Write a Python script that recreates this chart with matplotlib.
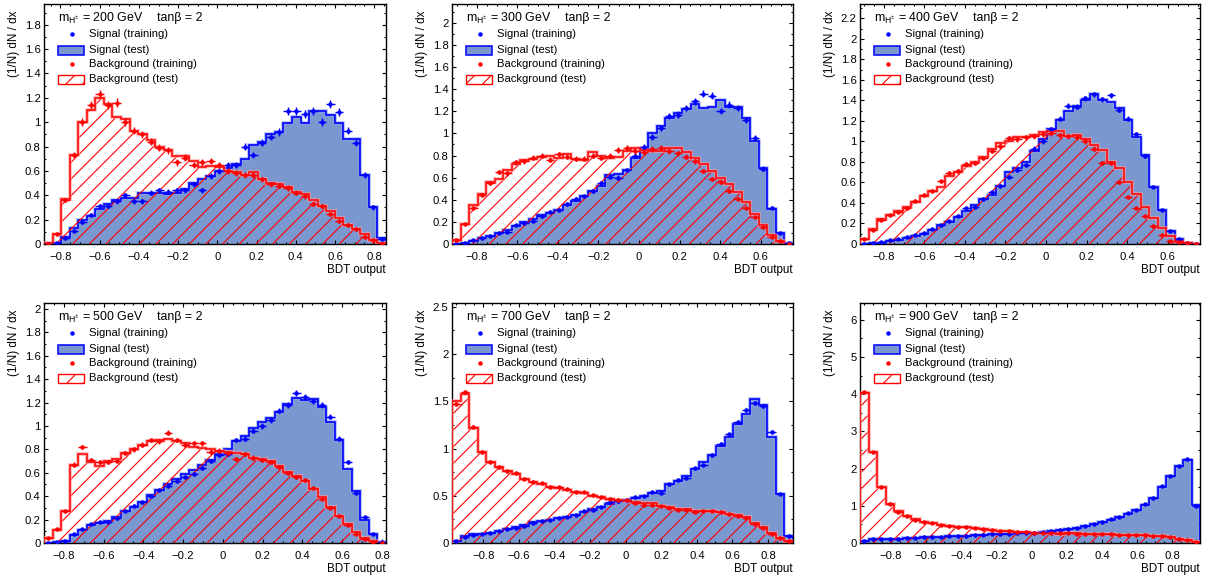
import numpy as np
import matplotlib
matplotlib.use('Agg')
import matplotlib.pyplot as plt
from matplotlib.patches import Rectangle
from matplotlib.ticker import MultipleLocator, FuncFormatter

plt.rcParams['font.family'] = ['Liberation Sans', 'DejaVu Sans']
plt.rcParams['mathtext.fontset'] = 'custom'
plt.rcParams['mathtext.rm'] = 'Liberation Sans'
plt.rcParams['mathtext.it'] = 'Liberation Sans:italic'
plt.rcParams['hatch.linewidth'] = 0.8

# ---------------- data ----------------
masses = [200, 300, 400, 500, 700, 900]
tan_beta = 2
x_ranges = [(-0.884, 0.86), (-0.923, 0.76), (-0.918, 0.76),
            (-0.90, 0.82), (-0.975, 0.94), (-0.975, 0.957)]
y_max = [1.97, 2.17, 2.34, 2.05, 2.54, 6.45]
y_major = [0.2, 0.2, 0.2, 0.2, 0.5, 1.0]
x_ticks = [-0.8, -0.6, -0.4, -0.2, 0, 0.2, 0.4, 0.6, 0.8]
err_scale = [0.032, 0.026, 0.022, 0.022, 0.018, 0.02]

# 200 GeV
sig_test_200 = [0.0, 0.01, 0.06, 0.13, 0.2, 0.23, 0.29, 0.33, 0.36, 0.38, 0.38, 0.42, 0.42, 0.42, 0.41, 0.42,
                0.45, 0.5, 0.53, 0.56, 0.6, 0.62, 0.66, 0.7, 0.81, 0.84, 0.9, 0.92, 0.99, 1.04, 0.99, 1.09,
                1.09, 1.06, 0.99, 0.86, 0.86, 0.57, 0.3, 0.05]
sig_train_200 = [0.0, 0.01, 0.05, 0.11, 0.18, 0.24, 0.31, 0.31, 0.35, 0.40, 0.35, 0.35, 0.42, 0.44, 0.43, 0.44,
                 0.44, 0.49, 0.44, 0.555, 0.60, 0.645, 0.65, 0.80, 0.73, 0.83, 0.88, 0.92, 1.09, 1.09, 1.07, 1.09,
                 1.0, 1.15, 1.08, 0.93, 0.83, 0.57, 0.30, 0.045]
bkg_test_200 = [0.01, 0.08, 0.37, 0.73, 1.0, 1.1, 1.2, 1.15, 1.04, 1.03, 0.93, 0.9, 0.85, 0.8, 0.77, 0.72,
                0.72, 0.68, 0.63, 0.64, 0.63, 0.6, 0.59, 0.57, 0.59, 0.53, 0.5, 0.49, 0.47, 0.43, 0.41, 0.36,
                0.31, 0.27, 0.21, 0.16, 0.12, 0.08, 0.03, 0.01]
bkg_train_200 = [0.0, 0.08, 0.36, 0.73, 1.0, 1.14, 1.23, 1.14, 1.16, 1.0, 0.93, 0.9, 0.84, 0.79, 0.77, 0.67,
                 0.71, 0.65, 0.67, 0.68, 0.65, 0.6, 0.58, 0.57, 0.57, 0.53, 0.49, 0.48, 0.46, 0.42, 0.39, 0.33,
                 0.31, 0.25, 0.19, 0.16, 0.12, 0.06, 0.03, 0.0]

# 300 GeV
sig_test_300 = [0.0, 0.01, 0.03, 0.05, 0.07, 0.1, 0.13, 0.16, 0.2, 0.23, 0.26, 0.28, 0.31, 0.35, 0.39, 0.43,
                0.48, 0.52, 0.62, 0.63, 0.67, 0.78, 0.87, 1.0, 1.07, 1.14, 1.18, 1.22, 1.27, 1.23, 1.24, 1.3,
                1.24, 1.24, 1.14, 0.93, 0.69, 0.32, 0.1, 0.01]
sig_train_300 = [0.0, 0.01, 0.035, 0.05, 0.07, 0.1, 0.11, 0.17, 0.19, 0.21, 0.25, 0.29, 0.31, 0.36, 0.41, 0.43,
                 0.48, 0.55, 0.61, 0.6, 0.67, 0.8, 0.88, 0.97, 1.05, 1.16, 1.17, 1.23, 1.29, 1.36, 1.34, 1.2,
                 1.26, 1.23, 1.12, 0.96, 0.68, 0.33, 0.1, 0.01]
bkg_test_300 = [0.04, 0.18, 0.35, 0.45, 0.56, 0.59, 0.67, 0.72, 0.76, 0.77, 0.79, 0.8, 0.78, 0.81, 0.77, 0.76,
                0.83, 0.8, 0.78, 0.79, 0.84, 0.87, 0.85, 0.84, 0.84, 0.87, 0.87, 0.83, 0.78, 0.72, 0.66, 0.6,
                0.54, 0.47, 0.38, 0.27, 0.17, 0.08, 0.03, 0.0]
bkg_train_300 = [0.04, 0.18, 0.33, 0.44, 0.55, 0.65, 0.64, 0.74, 0.75, 0.78, 0.8, 0.76, 0.81, 0.79, 0.77, 0.77,
                 0.8, 0.78, 0.8, 0.85, 0.87, 0.84, 0.83, 0.86, 0.87, 0.84, 0.82, 0.79, 0.75, 0.66, 0.59, 0.56,
                 0.48, 0.41, 0.33, 0.24, 0.15, 0.06, 0.03, 0.0]

# 400 GeV
sig_test_400 = [0.0, 0.005, 0.01, 0.03, 0.04, 0.06, 0.08, 0.1, 0.14, 0.19, 0.21, 0.26, 0.32, 0.38, 0.44, 0.48,
                0.57, 0.7, 0.74, 0.8, 0.91, 1.02, 1.12, 1.21, 1.3, 1.35, 1.4, 1.46, 1.4, 1.38, 1.33, 1.21,
                1.04, 0.87, 0.56, 0.33, 0.13, 0.05, 0.01, 0.0]
sig_train_400 = [0.0, 0.005, 0.02, 0.04, 0.05, 0.07, 0.09, 0.11, 0.15, 0.19, 0.22, 0.27, 0.35, 0.36, 0.44, 0.51,
                 0.57, 0.65, 0.72, 0.77, 0.93, 1.0, 1.12, 1.22, 1.35, 1.34, 1.42, 1.46, 1.41, 1.45, 1.31, 1.22,
                 1.07, 0.86, 0.56, 0.33, 0.13, 0.05, 0.01, 0.0]
bkg_test_400 = [0.05, 0.15, 0.24, 0.28, 0.32, 0.36, 0.41, 0.47, 0.52, 0.56, 0.66, 0.7, 0.76, 0.8, 0.85, 0.93,
                0.98, 1.0, 1.04, 1.04, 1.06, 1.09, 1.1, 1.1, 1.05, 1.06, 1.02, 0.97, 0.92, 0.8, 0.74, 0.6,
                0.49, 0.36, 0.25, 0.16, 0.08, 0.03, 0.01, 0.0]
bkg_train_400 = [0.05, 0.14, 0.23, 0.28, 0.31, 0.35, 0.42, 0.48, 0.52, 0.61, 0.69, 0.71, 0.78, 0.79, 0.84, 0.91,
                 0.96, 1.03, 1.02, 1.04, 1.05, 1.07, 1.08, 1.06, 1.05, 1.04, 1.0, 0.93, 0.79, 0.79, 0.6, 0.46,
                 0.35, 0.27, 0.18, 0.09, 0.03, 0.02, 0.01, 0.0]

# 500 GeV
sig_test_500 = [0.0, 0.005, 0.02, 0.07, 0.11, 0.15, 0.17, 0.19, 0.22, 0.27, 0.31, 0.35, 0.41, 0.45, 0.5, 0.55,
                0.59, 0.62, 0.67, 0.71, 0.76, 0.8, 0.87, 0.91, 0.98, 1.03, 1.07, 1.12, 1.19, 1.24, 1.22, 1.23,
                1.16, 1.03, 0.88, 0.63, 0.44, 0.2, 0.08, 0.01]
sig_train_500 = [0.0, 0.005, 0.02, 0.08, 0.12, 0.16, 0.18, 0.18, 0.21, 0.27, 0.32, 0.35, 0.4, 0.45, 0.49, 0.53,
                 0.56, 0.59, 0.64, 0.7, 0.75, 0.76, 0.88, 0.89, 0.96, 1.0, 1.05, 1.13, 1.18, 1.28, 1.25, 1.21,
                 1.18, 1.08, 0.89, 0.69, 0.43, 0.22, 0.08, 0.01]
bkg_test_500 = [0.04, 0.11, 0.27, 0.67, 0.76, 0.69, 0.66, 0.7, 0.72, 0.77, 0.8, 0.84, 0.87, 0.88, 0.89, 0.87,
                0.85, 0.82, 0.81, 0.8, 0.79, 0.78, 0.77, 0.76, 0.73, 0.72, 0.7, 0.66, 0.61, 0.57, 0.53, 0.46,
                0.39, 0.31, 0.23, 0.16, 0.09, 0.04, 0.02, 0.0]
bkg_train_500 = [0.04, 0.12, 0.27, 0.67, 0.82, 0.71, 0.69, 0.69, 0.7, 0.77, 0.8, 0.84, 0.88, 0.87, 0.94, 0.88,
                 0.84, 0.85, 0.85, 0.78, 0.79, 0.77, 0.72, 0.76, 0.73, 0.71, 0.69, 0.65, 0.6, 0.56, 0.54, 0.47,
                 0.38, 0.3, 0.23, 0.15, 0.08, 0.03, 0.01, 0.0]

# 700 GeV
sig_test_700 = [0.02, 0.07, 0.09, 0.1, 0.11, 0.13, 0.15, 0.17, 0.19, 0.22, 0.23, 0.24, 0.26, 0.28, 0.3, 0.33,
                0.36, 0.38, 0.41, 0.44, 0.46, 0.48, 0.5, 0.53, 0.55, 0.62, 0.66, 0.71, 0.78, 0.86, 0.93, 1.03,
                1.12, 1.26, 1.37, 1.52, 1.46, 1.12, 0.52, 0.07]
sig_train_700 = [0.02, 0.06, 0.08, 0.1, 0.11, 0.13, 0.15, 0.16, 0.18, 0.21, 0.23, 0.24, 0.26, 0.28, 0.3, 0.34,
                 0.35, 0.38, 0.43, 0.44, 0.46, 0.49, 0.5, 0.54, 0.53, 0.62, 0.67, 0.69, 0.79, 0.83, 0.93, 1.05,
                 1.15, 1.28, 1.41, 1.48, 1.45, 1.18, 0.52, 0.07]
bkg_test_700 = [1.5, 1.58, 1.22, 0.96, 0.86, 0.8, 0.76, 0.73, 0.68, 0.65, 0.62, 0.59, 0.58, 0.56, 0.54, 0.53,
                0.5, 0.49, 0.47, 0.46, 0.44, 0.43, 0.42, 0.42, 0.39, 0.38, 0.36, 0.36, 0.34, 0.34, 0.34, 0.33,
                0.31, 0.3, 0.27, 0.21, 0.17, 0.11, 0.05, 0.02]
bkg_train_700 = [1.47, 1.6, 1.23, 0.96, 0.86, 0.8, 0.76, 0.74, 0.68, 0.65, 0.63, 0.59, 0.59, 0.57, 0.54, 0.54,
                 0.51, 0.49, 0.47, 0.46, 0.45, 0.42, 0.4, 0.4, 0.39, 0.37, 0.35, 0.35, 0.33, 0.34, 0.34, 0.33,
                 0.31, 0.29, 0.26, 0.2, 0.16, 0.1, 0.05, 0.02]

# 900 GeV
sig_test_900 = [0.05, 0.1, 0.1, 0.11, 0.12, 0.13, 0.14, 0.15, 0.16, 0.17, 0.18, 0.19, 0.2, 0.21, 0.22, 0.23,
                0.24, 0.25, 0.26, 0.27, 0.28, 0.3, 0.32, 0.34, 0.37, 0.4, 0.45, 0.5, 0.56, 0.63, 0.69, 0.78,
                0.9, 1.02, 1.22, 1.5, 1.8, 2.06, 2.23, 1.02]
sig_train_900 = [0.05, 0.1, 0.1, 0.11, 0.12, 0.13, 0.14, 0.15, 0.16, 0.17, 0.18, 0.19, 0.2, 0.21, 0.22, 0.23,
                 0.24, 0.25, 0.26, 0.27, 0.28, 0.3, 0.32, 0.34, 0.37, 0.4, 0.45, 0.5, 0.57, 0.64, 0.69, 0.8,
                 0.9, 1.05, 1.22, 1.53, 1.8, 2.07, 2.25, 1.0]
bkg_test_900 = [4.03, 2.45, 1.5, 1.05, 0.85, 0.72, 0.64, 0.57, 0.53, 0.49, 0.46, 0.44, 0.42, 0.39, 0.37, 0.35,
                0.33, 0.31, 0.3, 0.29, 0.28, 0.27, 0.26, 0.25, 0.26, 0.26, 0.25, 0.24, 0.23, 0.23, 0.22, 0.22,
                0.21, 0.21, 0.2, 0.18, 0.15, 0.12, 0.09, 0.04]
bkg_train_900 = [4.05, 2.45, 1.5, 1.05, 0.84, 0.72, 0.63, 0.57, 0.53, 0.49, 0.46, 0.44, 0.42, 0.39, 0.37, 0.35,
                 0.33, 0.31, 0.3, 0.29, 0.28, 0.27, 0.26, 0.26, 0.26, 0.25, 0.25, 0.24, 0.23, 0.23, 0.22, 0.22,
                 0.21, 0.21, 0.2, 0.18, 0.15, 0.12, 0.08, 0.04]

sig_test = [sig_test_200, sig_test_300, sig_test_400, sig_test_500, sig_test_700, sig_test_900]
sig_train = [sig_train_200, sig_train_300, sig_train_400, sig_train_500, sig_train_700, sig_train_900]
bkg_test = [bkg_test_200, bkg_test_300, bkg_test_400, bkg_test_500, bkg_test_700, bkg_test_900]
bkg_train = [bkg_train_200, bkg_train_300, bkg_train_400, bkg_train_500, bkg_train_700, bkg_train_900]

# ---------------- style ----------------
SIG_FILL = '#7b97d0'
SIG_LINE = '#0000ff'
BKG_LINE = '#ff0000'
FS_TICK = 8.1
FS_LEG = 8.1
FS_AX = 8.4
FS_TITLE = 8.9

W, H = 1209, 581
fig = plt.figure(figsize=(W / 100, H / 100), dpi=100)

cols = [(44, 386), (452, 793), (860, 1200)]
rows = [(4, 244), (303, 543)]


def fmt(v, pos):
    s = '%g' % round(v, 6)
    return s.replace('-', '\u2212')


for i in range(6):
    (l, r) = cols[i % 3]
    (t, b) = rows[i // 3]
    ax = fig.add_axes([l / W, 1 - b / H, (r - l) / W, (b - t) / H])
    aw, ah = r - l, b - t

    st = np.array(sig_test[i]); sr = np.array(sig_train[i])
    bt = np.array(bkg_test[i]); br = np.array(bkg_train[i])
    xlo, xhi = x_ranges[i]
    edges = np.linspace(xlo, xhi, len(st) + 1)
    centers = 0.5 * (edges[1:] + edges[:-1])
    hw = 0.5 * np.diff(edges)

    ax.stairs(st, edges, fill=True, facecolor=SIG_FILL, edgecolor='none', lw=0, zorder=1)
    ax.stairs(st, edges, color='#8ea4ec', lw=2.6, alpha=0.7, zorder=2)
    ax.stairs(st, edges, color=SIG_LINE, lw=1.2, zorder=3)
    ax.stairs(bt, edges, fill=True, facecolor='none', edgecolor=BKG_LINE, hatch='//', lw=0, zorder=4)
    ax.stairs(bt, edges, color='#ff9a9a', lw=2.6, alpha=0.7, zorder=5)
    ax.stairs(bt, edges, color=BKG_LINE, lw=1.1, zorder=6)

    ax.errorbar(centers, sr, xerr=hw, yerr=err_scale[i] * np.sqrt(sr), fmt='o', ms=2.2,
                color=SIG_LINE, elinewidth=1.0, capsize=0, zorder=7)
    ax.errorbar(centers, br, xerr=hw, yerr=err_scale[i] * np.sqrt(br), fmt='o', ms=2.2,
                color=BKG_LINE, elinewidth=1.0, capsize=0, zorder=8)

    ax.set_xlim(xlo, xhi)
    ax.set_ylim(0, y_max[i])
    ax.set_xticks([v for v in x_ticks if xlo <= v <= xhi])
    ax.xaxis.set_minor_locator(MultipleLocator(0.05))
    ax.yaxis.set_major_locator(MultipleLocator(y_major[i]))
    ax.yaxis.set_minor_locator(MultipleLocator(y_major[i] / 2))
    ax.xaxis.set_major_formatter(FuncFormatter(fmt))
    ax.yaxis.set_major_formatter(FuncFormatter(fmt))
    ax.tick_params(which='both', direction='in', top=True, right=True, labelsize=FS_TICK, width=0.8)
    ax.tick_params(which='major', length=3)
    ax.tick_params(which='minor', length=1.6)
    ax.tick_params(axis='x', which='major', pad=6)
    ax.tick_params(axis='y', which='major', pad=2.5)
    for sp in ax.spines.values():
        sp.set_linewidth(1.0)

    ax.set_ylabel('(1/N) dN / dx', fontsize=FS_AX, loc='top')
    ax.yaxis.set_label_coords(-24 / aw, 1 - 6 / ah)
    ax.set_xlabel('BDT output', fontsize=FS_AX, loc='right')
    ax.xaxis.set_label_coords(1.0, -20 / ah)

    # legend (manual, TMVA style)
    ax.text(14 / aw, 1 - 14 / ah, r'm$_{\mathregular{H^{\pm}}}$ = %d GeV' % masses[i],
            transform=ax.transAxes, fontsize=FS_TITLE, va='center', ha='left', zorder=10)
    ax.text(113 / aw, 1 - 14 / ah, 'tan\u03b2 = %d' % tan_beta,
            transform=ax.transAxes, fontsize=FS_TITLE, va='center', ha='left', zorder=10)
    row_y = [30, 46, 60, 75]
    labels = ['Signal (training)', 'Signal (test)', 'Background (training)', 'Background (test)']
    for k, (yy, lab) in enumerate(zip(row_y, labels)):
        ya = 1 - yy / ah
        ax.text(45 / aw, ya, lab, transform=ax.transAxes, fontsize=FS_LEG, va='center', ha='left', zorder=10)
        if k == 0:
            ax.plot([28 / aw], [ya], 'o', ms=2.2, color=SIG_LINE, transform=ax.transAxes, clip_on=False, zorder=10)
        elif k == 2:
            ax.plot([28 / aw], [ya], 'o', ms=2.2, color=BKG_LINE, transform=ax.transAxes, clip_on=False, zorder=10)
        elif k == 1:
            ax.add_patch(Rectangle((14 / aw, ya - 4.5 / ah), 26 / aw, 9 / ah, transform=ax.transAxes,
                                   facecolor=SIG_FILL, edgecolor=SIG_LINE, lw=1.1, zorder=10))
        else:
            ax.add_patch(Rectangle((14 / aw, ya - 4.5 / ah), 26 / aw, 9 / ah, transform=ax.transAxes,
                                   facecolor='white', edgecolor=BKG_LINE, hatch='//', lw=1.0, zorder=10))

fig.savefig('out.png', dpi=100)
